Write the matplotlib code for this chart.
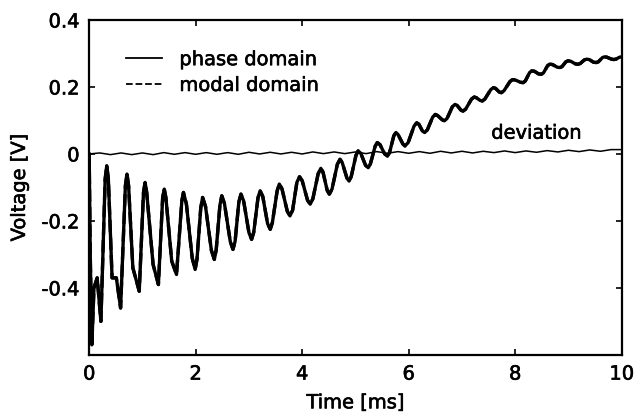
import matplotlib
matplotlib.use('Agg')
import matplotlib.pyplot as plt
import matplotlib.patheffects as pe

plt.rcParams['font.family'] = ['DejaVu Sans']
plt.rcParams['axes.unicode_minus'] = False

# 読み取った値 (時間 [ms], 電圧 [V])
time_ms = [0.00, 0.02, 0.05, 0.09, 0.15, 0.22, 0.30, 0.33, 0.36, 0.43,
           0.51, 0.59, 0.68, 0.71, 0.74, 0.82, 0.94, 1.02, 1.05, 1.08,
           1.20, 1.30, 1.38, 1.41, 1.44, 1.55, 1.64, 1.74, 1.77, 1.825,
           1.935, 1.99, 2.025, 2.095, 2.13, 2.185, 2.295, 2.35, 2.385, 2.455,
           2.49, 2.54, 2.65, 2.70, 2.74, 2.81, 2.85, 2.90, 3.00, 3.05,
           3.09, 3.17, 3.21, 3.26, 3.35, 3.40, 3.44, 3.53, 3.57, 3.62,
           3.72, 3.77, 3.82, 3.90, 3.95, 4.00, 4.10, 4.15, 4.20, 4.30,
           4.35, 4.39, 4.47, 4.51, 4.56, 4.66, 4.71, 4.75, 4.84, 4.88,
           4.92, 5.01, 5.05, 5.10, 5.19, 5.24, 5.28, 5.37, 5.41, 5.46,
           5.55, 5.60, 5.64, 5.72, 5.76, 5.80, 5.89, 5.93, 5.99, 6.10,
           6.15, 6.19, 6.26, 6.30, 6.35, 6.45, 6.50, 6.54, 6.63, 6.67,
           6.72, 6.82, 6.87, 6.91, 6.98, 7.02, 7.07, 7.18, 7.23, 7.27,
           7.34, 7.38, 7.43, 7.54, 7.59, 7.63, 7.70, 7.74, 7.79, 7.90,
           7.95, 8.00, 8.10, 8.15, 8.19, 8.27, 8.31, 8.36, 8.44, 8.49,
           8.53, 8.61, 8.65, 8.70, 8.79, 8.84, 8.88, 8.95, 8.99, 9.04,
           9.13, 9.18, 9.22, 9.30, 9.34, 9.39, 9.47, 9.52, 9.56, 9.64,
           9.68, 9.72, 9.81, 9.85, 9.89, 9.96, 10.00]

phase_v = [0.000, -0.300, -0.570, -0.400, -0.370, -0.500, -0.075, -0.035, -0.075, -0.370,
           -0.370, -0.460, -0.095, -0.060, -0.095, -0.340, -0.410, -0.115, -0.085, -0.115,
           -0.330, -0.390, -0.130, -0.105, -0.130, -0.320, -0.360, -0.140, -0.115, -0.149,
           -0.311, -0.345, -0.314, -0.161, -0.130, -0.157, -0.288, -0.315, -0.287, -0.153,
           -0.125, -0.148, -0.262, -0.285, -0.261, -0.144, -0.120, -0.140, -0.235, -0.255,
           -0.234, -0.131, -0.110, -0.127, -0.208, -0.225, -0.205, -0.110, -0.090, -0.104,
           -0.171, -0.185, -0.168, -0.085, -0.068, -0.080, -0.138, -0.150, -0.134, -0.059,
           -0.043, -0.054, -0.109, -0.120, -0.105, -0.031, -0.016, -0.025, -0.072, -0.081,
           -0.068, -0.004, 0.009, 0.002, -0.034, -0.041, -0.030, 0.023, 0.034, 0.028,
           0.000, -0.006, 0.004, 0.054, 0.064, 0.058, 0.030, 0.024, 0.034, 0.083,
           0.093, 0.089, 0.068, 0.064, 0.072, 0.110, 0.118, 0.115, 0.102, 0.099,
           0.106, 0.141, 0.148, 0.145, 0.131, 0.128, 0.134, 0.164, 0.170, 0.168,
           0.160, 0.158, 0.164, 0.192, 0.198, 0.196, 0.185, 0.183, 0.189, 0.216,
           0.222, 0.221, 0.214, 0.213, 0.218, 0.243, 0.248, 0.247, 0.239, 0.238,
           0.242, 0.264, 0.268, 0.267, 0.259, 0.258, 0.261, 0.275, 0.278, 0.277,
           0.269, 0.268, 0.270, 0.281, 0.283, 0.282, 0.274, 0.273, 0.275, 0.288,
           0.290, 0.289, 0.283, 0.282, 0.283, 0.289, 0.290]

# モーダル領域の結果は図上では位相領域と重なっている
modal_v = list(phase_v)

# 偏差 (deviation)
dev_t = [0.0, 0.2, 0.4, 0.6, 0.8, 1.0, 1.2, 1.4, 1.6, 1.8,
         2.0, 2.2, 2.4, 2.6, 2.8, 3.0, 3.2, 3.4, 3.6, 3.8,
         4.0, 4.2, 4.4, 4.6, 4.8, 5.0, 5.2, 5.4, 5.6, 5.8,
         6.0, 6.2, 6.4, 6.6, 6.8, 7.0, 7.2, 7.4, 7.6, 7.8,
         8.0, 8.2, 8.4, 8.6, 8.8, 9.0, 9.2, 9.4, 9.6, 9.8, 10.0]
dev_v = [0.000, 0.003, -0.002, 0.003, -0.002, 0.003, -0.002, 0.004, -0.001, 0.004,
         -0.001, 0.004, -0.001, 0.004, -0.001, 0.005, 0.000, 0.005, 0.000, 0.005,
         0.000, 0.006, 0.001, 0.006, 0.001, 0.006, 0.001, 0.007, 0.002, 0.007,
         0.002, 0.007, 0.002, 0.008, 0.003, 0.008, 0.003, 0.008, 0.004, 0.009,
         0.004, 0.009, 0.005, 0.010, 0.006, 0.011, 0.007, 0.012, 0.008, 0.013, 0.013]

x_ticks = [0, 2, 4, 6, 8, 10]
x_labels = ['0', '2', '4', '6', '8', '10']
y_ticks = [-0.4, -0.2, 0.0, 0.2, 0.4]
y_labels = ['-0.4', '-0.2', '0', '0.2', '0.4']

# スキャン画像っぽく文字を少し太く
bold_fx = [pe.withStroke(linewidth=0.45, foreground='black')]

fig = plt.figure(figsize=(6.37, 4.17), dpi=100)
ax = fig.add_axes([0.140, 0.149, 0.836, 0.803])

ax.plot(time_ms, phase_v, color='black', lw=2.4, solid_joinstyle='round',
        label='phase domain')
ax.plot(time_ms, modal_v, color='black', lw=2.4, ls='--', label='modal domain')
ax.plot(dev_t, dev_v, color='black', lw=1.1)

ax.text(7.55, 0.062, 'deviation', fontsize=14, va='center', ha='left',
        path_effects=bold_fx)

ax.set_xlim(0, 10)
ax.set_ylim(-0.6, 0.4)
ax.set_xticks(x_ticks)
ax.set_xticklabels(x_labels)
ax.set_yticks(y_ticks)
ax.set_yticklabels(y_labels)
ax.tick_params(direction='in', top=True, right=True, length=4, width=1.2,
               labelsize=14, pad=7)
for lab in ax.get_xticklabels() + ax.get_yticklabels():
    lab.set_path_effects(bold_fx)
for s in ax.spines.values():
    s.set_linewidth(1.6)

ax.set_xlabel('Time [ms]', fontsize=14, labelpad=7, path_effects=bold_fx)
ax.set_ylabel('Voltage [V]', fontsize=14, labelpad=9, path_effects=bold_fx)

leg = ax.legend(loc='upper left', bbox_to_anchor=(0.069, 0.91), frameon=False,
                fontsize=14, handlelength=1.85, handletextpad=0.9,
                labelspacing=0.35, borderpad=0, borderaxespad=0)
for line in leg.get_lines():
    line.set_linewidth(1.3)
for t in leg.get_texts():
    t.set_path_effects(bold_fx)

fig.savefig('out.png', dpi=100)
